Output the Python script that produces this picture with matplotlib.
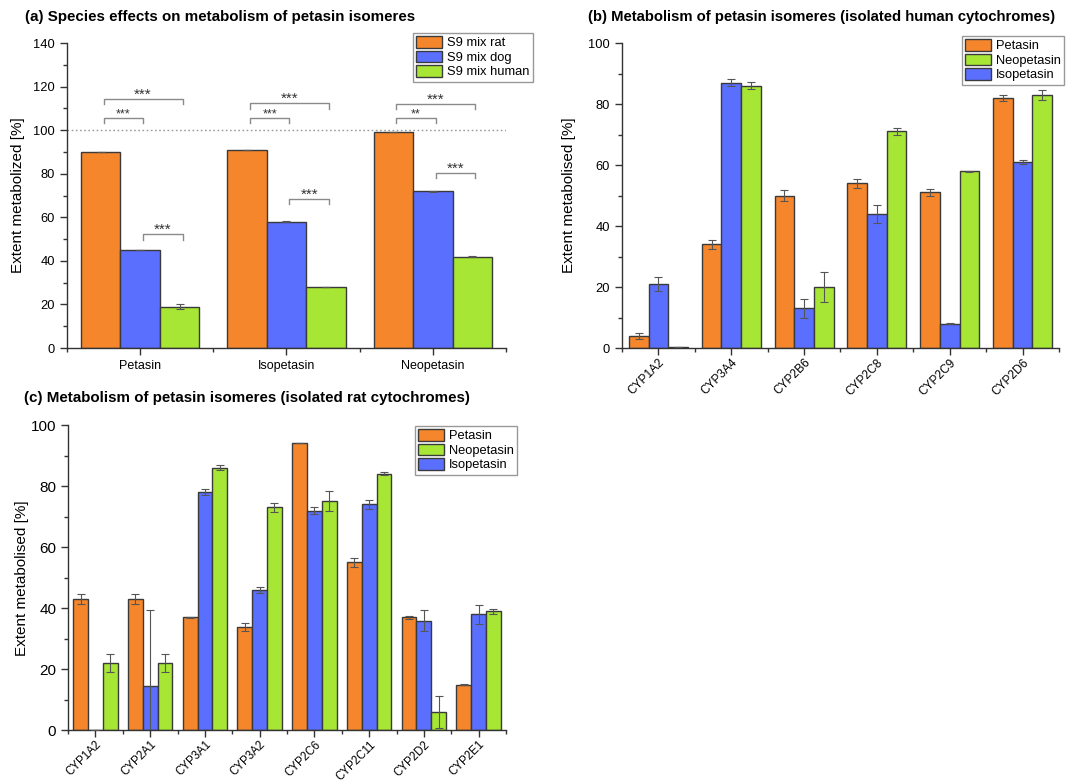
import matplotlib
matplotlib.use("Agg")
import matplotlib.pyplot as plt
import numpy as np
from matplotlib.ticker import MultipleLocator, FixedLocator

plt.rcParams["font.family"] = ["Liberation Sans", "DejaVu Sans"]

ORANGE = "#F5862B"
BLUE = "#5B6FFF"
GREEN = "#A7E635"
EDGE = "#3a3a3a"
AXIS = "#333333"

# (a) S9 mixes of three species
isomers = ["Petasin", "Isopetasin", "Neopetasin"]
s9_rat = [90, 91, 99]
s9_rat_err = [0.0, 0.0, 0.0]
s9_dog = [45, 58, 72]
s9_dog_err = [0.2, 0.1, 0.2]
s9_human = [19, 28, 42]
s9_human_err = [1.0, 0.2, 0.4]
s9_labels = ["S9 mix rat", "S9 mix dog", "S9 mix human"]

# significance brackets: (group, first bar, second bar, height, stars)
sig_brackets = [
    (0, 0, 1, 105.5, "***"), (0, 0, 2, 114.2, "***"), (0, 1, 2, 52.2, "***"),
    (1, 0, 1, 105.5, "***"), (1, 0, 2, 112.3, "***"), (1, 1, 2, 68.3, "***"),
    (2, 0, 1, 105.5, "**"), (2, 0, 2, 111.9, "***"), (2, 1, 2, 80.4, "***"),
]

# (b) isolated human cytochromes
human_cyps = ["CYP1A2", "CYP3A4", "CYP2B6", "CYP2C8", "CYP2C9", "CYP2D6"]
h_petasin = [4, 34, 50, 54, 51, 82]
h_petasin_err = [1.0, 1.5, 1.7, 1.5, 1.2, 0.9]
h_isopetasin = [21, 87, 13, 44, 8, 61]
h_isopetasin_err = [2.2, 1.1, 3.0, 3.0, 0.1, 0.7]
h_neopetasin = [0.2, 86, 20, 71, 58, 83]
h_neopetasin_err = [0.0, 1.1, 5.0, 1.0, 0.2, 1.6]

# (c) isolated rat cytochromes
rat_cyps = ["CYP1A2", "CYP2A1", "CYP3A1", "CYP3A2", "CYP2C6", "CYP2C11", "CYP2D2", "CYP2E1"]
r_petasin = [43, 43, 37, 34, 94, 55, 37, 15]
r_petasin_err = [1.6, 1.6, 0.3, 1.3, 0.0, 1.4, 0.4, 0.2]
r_isopetasin = [0.3, 14.4, 78, 46, 72, 74, 36, 38]
r_isopetasin_err = [0.0, 25.0, 1.0, 0.9, 1.1, 1.4, 3.4, 3.0]
r_neopetasin = [22, 22, 86, 73, 75, 84, 6, 39]
r_neopetasin_err = [3.0, 3.0, 0.8, 1.4, 3.3, 0.5, 5.2, 0.8]

BAR_W = 0.27


def draw_groups(ax, series, errors, colors, labels):
    x = np.arange(1, len(series[0]) + 1)
    k = len(series)
    offsets = (np.arange(k) - (k - 1) / 2) * BAR_W
    handles = []
    for vals, err, off, col, lab in zip(series, errors, offsets, colors, labels):
        h = ax.bar(x + off, vals, BAR_W, yerr=err, color=col, edgecolor=EDGE,
                   linewidth=1, label=lab, zorder=2,
                   error_kw=dict(ecolor="#555555", elinewidth=0.8, capsize=3,
                                 capthick=0.8, zorder=3))
        handles.append(h)
    return x, offsets, handles


def style_axes(ax, cats, ymax, rotate, ytick_size, xtick_size=8.6):
    n = len(cats)
    for side in ("top", "right"):
        ax.spines[side].set_visible(False)
    for side in ("left", "bottom"):
        ax.spines[side].set_color(AXIS)
        ax.spines[side].set_linewidth(1)
    ax.set_xlim(0.5, n + 0.5)
    ax.set_ylim(0, ymax)
    ax.yaxis.set_major_locator(MultipleLocator(20))
    ax.yaxis.set_minor_locator(MultipleLocator(10))
    ax.set_xticks(np.arange(1, n + 1))
    ax.xaxis.set_minor_locator(FixedLocator(np.arange(0.5, n + 1, 1)))
    ax.tick_params(which="major", direction="out", length=5, width=1, color=AXIS)
    ax.tick_params(which="minor", direction="out", length=3, width=1, color=AXIS)
    ax.tick_params(axis="y", labelsize=ytick_size)
    if rotate:
        ax.tick_params(axis="x", pad=1)
        ax.set_xticklabels(cats, rotation=45, ha="right", rotation_mode="anchor",
                           fontsize=xtick_size)
    else:
        ax.set_xticklabels(cats, fontsize=9)


def add_legend(ax, handles, labels, right, top):
    ax.legend(handles, labels, loc="upper right",
              bbox_to_anchor=(right / 1070, 1 - top / 781),
              bbox_transform=fig.transFigure, fontsize=9.3, frameon=True,
              fancybox=False, edgecolor="#999999", framealpha=1,
              handlelength=2.0, handleheight=1.0, labelspacing=0.1,
              borderpad=0.25, handletextpad=0.4, borderaxespad=0)


fig = plt.figure(figsize=(10.7, 7.81), dpi=100)

# (a) species effects
ax_a = fig.add_axes([0.0626, 0.5544, 0.4103, 0.3905])
x_a, off_a, h_a = draw_groups(ax_a, [s9_rat, s9_dog, s9_human],
                              [s9_rat_err, s9_dog_err, s9_human_err],
                              [ORANGE, BLUE, GREEN], s9_labels)
style_axes(ax_a, isomers, 140, False, 9.3)
ax_a.axhline(100, color="#999999", linestyle=(0, (1.2, 1.8)), linewidth=1, zorder=1)
ax_a.set_ylabel("Extent metabolized [%]", fontsize=11, labelpad=6)
for g, i, j, y, stars in sig_brackets:
    x0 = x_a[g] + off_a[i] + 0.02
    x1 = x_a[g] + off_a[j] + 0.02
    ax_a.plot([x0, x0, x1, x1], [y - 2.4, y, y, y - 2.4], color="#8a8a8a",
              linewidth=1, zorder=4, clip_on=False)
    # the short rat/dog brackets carry smaller stars
    size = 9 if (i, j) == (0, 1) else 11
    ax_a.text((x0 + x1) / 2, y + 0.2, stars, ha="center", va="baseline",
              fontsize=size, color="#333333")
add_legend(ax_a, h_a, s9_labels, 533, 33)
fig.text(25 / 1070, 1 - 17 / 781, "(a) Species effects on metabolism of petasin isomeres",
         fontsize=10.9, fontweight="bold", va="center", ha="left")

# (b) human cytochromes
ax_b = fig.add_axes([0.5813, 0.5544, 0.4084, 0.3905])
x_b, off_b, h_b = draw_groups(ax_b, [h_petasin, h_isopetasin, h_neopetasin],
                              [h_petasin_err, h_isopetasin_err, h_neopetasin_err],
                              [ORANGE, BLUE, GREEN],
                              ["Petasin", "Isopetasin", "Neopetasin"])
style_axes(ax_b, human_cyps, 100, True, 9.3)
ax_b.set_ylabel("Extent metabolised [%]", fontsize=11, labelpad=9)
add_legend(ax_b, [h_b[0], h_b[2], h_b[1]], ["Petasin", "Neopetasin", "Isopetasin"],
           1064, 36)
fig.text(588 / 1070, 1 - 17 / 781,
         "(b) Metabolism of petasin isomeres (isolated human cytochromes)",
         fontsize=10.7, fontweight="bold", va="center", ha="left")

# (c) rat cytochromes
ax_c = fig.add_axes([0.0636, 0.0647, 0.4093, 0.3911])
x_c, off_c, h_c = draw_groups(ax_c, [r_petasin, r_isopetasin, r_neopetasin],
                              [r_petasin_err, r_isopetasin_err, r_neopetasin_err],
                              [ORANGE, BLUE, GREEN],
                              ["Petasin", "Isopetasin", "Neopetasin"])
style_axes(ax_c, rat_cyps, 100, True, 11, xtick_size=8.3)
ax_c.set_ylabel("Extent metabolised [%]", fontsize=11, labelpad=1)
add_legend(ax_c, [h_c[0], h_c[2], h_c[1]], ["Petasin", "Neopetasin", "Isopetasin"],
           517, 426)
fig.text(24 / 1070, 1 - 398 / 781,
         "(c) Metabolism of petasin isomeres (isolated rat cytochromes)",
         fontsize=10.9, fontweight="bold", va="center", ha="left")

fig.savefig("out.png", dpi=100)
plt.close(fig)
